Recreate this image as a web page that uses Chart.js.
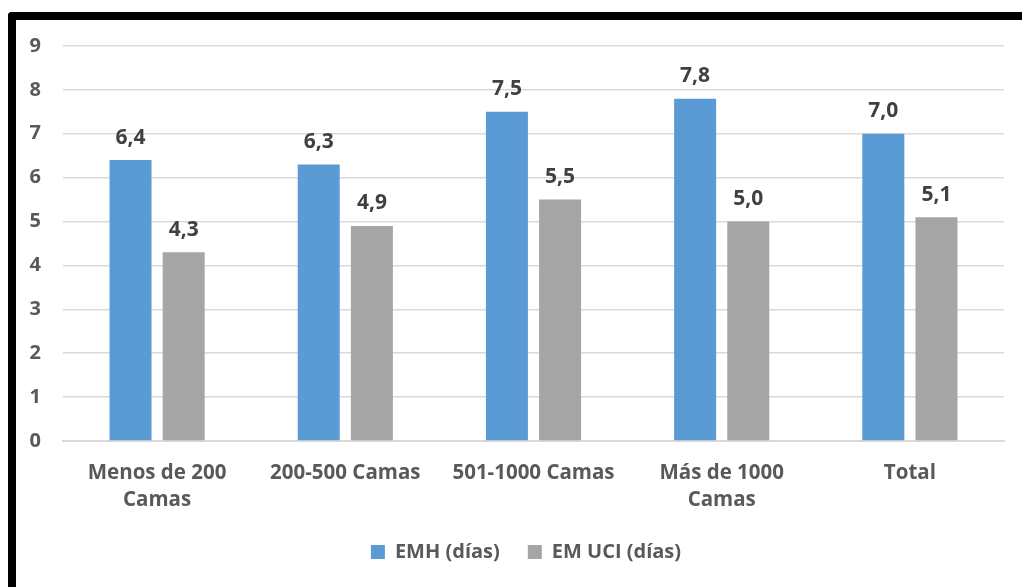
<!DOCTYPE html>
<html>
<head>
<meta charset="utf-8">
<script src="https://cdn.jsdelivr.net/npm/chart.js@4.4.1/dist/chart.umd.min.js"></script>
<style>
html,body{margin:0;padding:0;background:#fff;overflow:hidden;}
#wrap{position:relative;width:1022px;height:587px;}
#frame{position:absolute;left:8px;top:12px;width:1100px;height:700px;border-top:8px solid #000;border-left:8px solid #000;border-top-left-radius:4px;box-sizing:border-box;pointer-events:none;}
#cv{position:absolute;left:0;top:0;}
</style>
</head>
<body>
<div id="wrap">
<canvas id="cv" width="1022" height="587"></canvas>
<div id="frame"></div>
</div>
<script>
const categories = [["Menos de 200","Camas"], "200-500 Camas", "501-1000 Camas", ["Más de 1000","Camas"], "Total"];
const emhValues = [6.4, 6.3, 7.5, 7.8, 7.0];
const emUciValues = [4.3, 4.9, 5.5, 5.0, 5.1];
const seriesNames = ["EMH (días)", "EM UCI (días)"];
const yTicks = [0,1,2,3,4,5,6,7,8,9];

const FONT = "'Open Sans', 'DejaVu Sans', sans-serif";

const valueLabels = {
  id: 'valueLabels',
  afterDatasetsDraw(chart) {
    const ctx = chart.ctx;
    ctx.save();
    ctx.font = "bold 21px " + FONT;
    ctx.fillStyle = '#404040';
    ctx.textAlign = 'center';
    ctx.textBaseline = 'bottom';
    chart.data.datasets.forEach((ds, i) => {
      const meta = chart.getDatasetMeta(i);
      meta.data.forEach((bar, j) => {
        const v = ds.data[j];
        ctx.fillText(v.toFixed(1).replace('.', ','), bar.x, bar.y - 12);
      });
    });
    ctx.restore();
  }
};

const legendShift = {
  id: 'legendShift',
  afterLayout(chart) {
    if (chart.legend) { chart.legend.left += 14; chart.legend.right += 14; }
  }
};

new Chart(document.getElementById('cv'), {
  type: 'bar',
  data: {
    labels: categories,
    datasets: [
      { label: seriesNames[0], data: emhValues, backgroundColor: '#5B9BD5', barPercentage: 0.79, categoryPercentage: 0.565 },
      { label: seriesNames[1], data: emUciValues, backgroundColor: '#A5A5A5', barPercentage: 0.79, categoryPercentage: 0.565 }
    ]
  },
  options: {
    responsive: false,
    animation: false,
    devicePixelRatio: 1,
    layout: { padding: { left: 20, right: 18, top: 46, bottom: 15 } },
    plugins: {
      tooltip: { enabled: false },
      legend: {
        position: 'bottom',
        labels: {
          boxWidth: 14, boxHeight: 14, padding: 28,
          color: '#595959',
          font: { family: FONT, size: 20, weight: 'bold' }
        }
      }
    },
    scales: {
      y: {
        min: 0, max: 9,
        afterBuildTicks(scale) { scale.ticks = yTicks.map(v => ({ value: v })); },
        afterFit(scale) { scale.width = 43; },
        ticks: { color: '#595959', padding: 22, font: { family: FONT, size: 20, weight: 'bold' } },
        grid: { color: '#d9d9d9', lineWidth: 1.5, drawTicks: false },
        border: { display: false }
      },
      x: {
        afterFit(scale) { scale.height = 73; },
        ticks: { color: '#595959', padding: 19, maxRotation: 0, font: { family: FONT, size: 20.5, weight: 'bold', lineHeight: 1.32 } },
        grid: { display: false, drawTicks: false },
        border: { color: '#d9d9d9', width: 2 }
      }
    }
  },
  plugins: [valueLabels, legendShift]
});
</script>
</body>
</html>
